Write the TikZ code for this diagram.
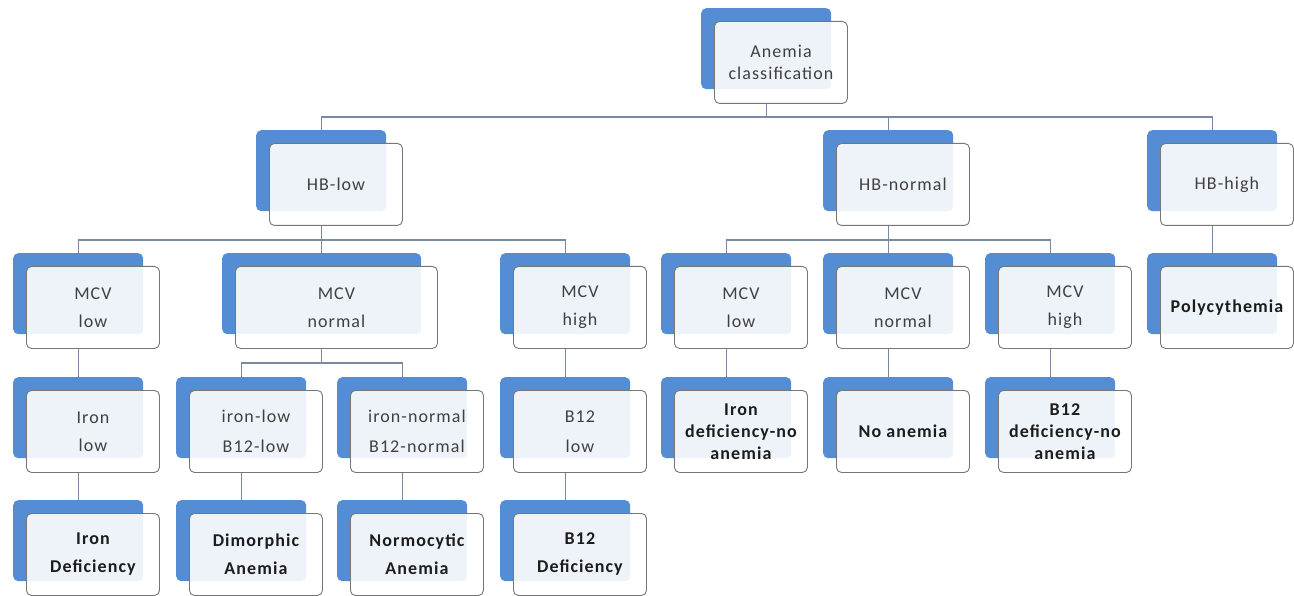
\documentclass[tikz,border=0pt]{standalone}
\usepackage{fontspec}
\setmainfont{Carlito}[LetterSpace=6]
\definecolor{backblue}{RGB}{84,141,212}
\definecolor{conncol}{RGB}{120,138,160}
\definecolor{bordercol}{RGB}{118,118,118}
\definecolor{txt}{RGB}{64,64,64}
\definecolor{txtb}{RGB}{28,28,28}
\newcommand\mybox[6]{%
  \node[backbox, minimum width=#4pt] (#1b) at (#2,#3) {};
  \node[frontbox, minimum width=#4pt+3pt, #5] (#1) at (#2+13,#3+13) {#6};
}
\tikzset{
  backbox/.style={fill=backblue, rounded corners=5pt, minimum height=81pt, inner sep=0pt, anchor=north west},
  frontbox/.style={draw=bordercol, line width=0.9pt, fill=white, fill opacity=0.9, text opacity=1,
    rounded corners=5pt, minimum height=82pt, inner sep=2pt, anchor=north west, align=center,
    font=\fontsize{18}{28}\selectfont, text=txt},
  tight/.style={font=\fontsize{18}{22}\selectfont},
  wide/.style={font=\fontsize{18}{30}\selectfont},
  bold/.style={font=\fontsize{18}{28}\selectfont\bfseries, text=txtb},
  boldtight/.style={font=\fontsize{18}{22}\selectfont\bfseries, text=txtb},
  conn/.style={draw=conncol, line width=1.2pt}
}
\begin{document}
\begin{tikzpicture}[x=1pt,y=-1pt]
\useasboundingbox (0,0) rectangle (1294,596);
% row 1
\mybox{A}{701}{8}{130}{tight}{Anemia\\classification}
% row 2
\mybox{HBlow}{256}{130}{130}{}{HB-low}
\mybox{HBnormal}{823}{130}{130}{}{HB-normal}
\mybox{HBhigh}{1147}{130}{130}{}{HB-high}
% row 3
\mybox{MCVlowA}{13}{253}{130}{}{MCV\\low}
\mybox{MCVnormalA}{222}{253}{199}{}{MCV\\normal}
\mybox{MCVhighA}{500}{253}{130}{}{MCV\\high}
\mybox{MCVlowB}{661}{253}{130}{}{MCV\\low}
\mybox{MCVnormalB}{823}{253}{130}{}{MCV\\normal}
\mybox{MCVhighB}{985}{253}{130}{}{MCV\\high}
\mybox{Poly}{1147}{253}{130}{bold}{Polycythemia}
% row 4
\mybox{Ironlow}{13}{377}{130}{}{Iron\\low}
\mybox{ironB}{176}{377}{130}{wide}{iron-low\\B12-low}
\mybox{ironN}{337}{377}{130}{wide}{iron-normal\\B12-normal}
\mybox{Blow}{500}{377}{130}{wide}{B12\\low}
\mybox{IronNo}{661}{377}{130}{boldtight}{Iron\\deficiency-no\\anemia}
\mybox{NoAn}{823}{377}{130}{bold}{No anemia}
\mybox{BNo}{985}{377}{130}{boldtight}{B12\\deficiency-no\\anemia}
% row 5
\mybox{IronDef}{13}{500}{130}{bold}{Iron\\Deficiency}
\mybox{Dimo}{176}{500}{130}{bold}{Dimorphic\\Anemia}
\mybox{Normo}{337}{500}{130}{bold}{Normocytic\\Anemia}
\mybox{BDef}{500}{500}{130}{bold}{B12\\Deficiency}
% buses
\coordinate (busA) at (0,117);
\coordinate (busB) at (0,240);
\coordinate (busD) at (0,363);
% connectors
\foreach \c in {HBlow,HBnormal,HBhigh}
  \draw[conn] (Ab.center |- A.south) -- (Ab.center |- busA) -| (\c b.north);
\foreach \c in {MCVlowA,MCVnormalA,MCVhighA}
  \draw[conn] (HBlowb.center |- HBlow.south) -- (HBlowb.center |- busB) -| (\c b.north);
\foreach \c in {MCVlowB,MCVnormalB,MCVhighB}
  \draw[conn] (HBnormalb.center |- HBnormal.south) -- (HBnormalb.center |- busB) -| (\c b.north);
\foreach \c in {ironB,ironN}
  \draw[conn] (MCVnormalAb.center |- MCVnormalA.south) -- (MCVnormalAb.center |- busD) -| (\c b.north);
\foreach \p/\c in {HBhigh/Poly,MCVlowA/Ironlow,MCVhighA/Blow,MCVlowB/IronNo,MCVnormalB/NoAn,MCVhighB/BNo,Ironlow/IronDef,ironB/Dimo,ironN/Normo,Blow/BDef}
  \draw[conn] (\p b.center |- \p.south) -- (\c b.north);
\end{tikzpicture}
\end{document}
